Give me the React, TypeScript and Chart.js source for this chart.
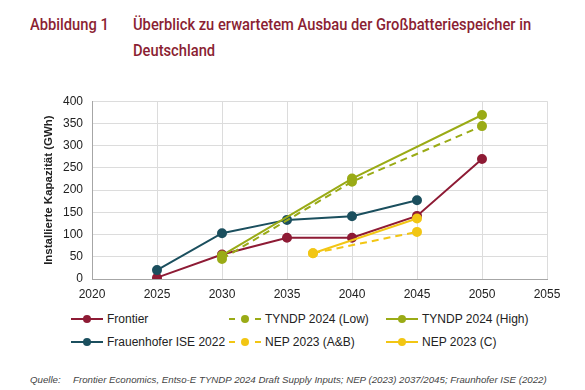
import React, { useEffect, useRef } from "react";
import { Chart, registerables } from "chart.js";

Chart.register(...registerables);

const xTicks = [2020, 2025, 2030, 2035, 2040, 2045, 2050, 2055];
const yTicks = [0, 50, 100, 150, 200, 250, 300, 350, 400];

const frontierYears = [2025, 2030, 2035, 2040, 2045, 2050];
const frontierValues = [3, 55, 93, 93, 142, 270];

const fraunhoferYears = [2025, 2030, 2035, 2040, 2045];
const fraunhoferValues = [20, 103, 133, 141, 177];

const tyndpLowYears = [2030, 2040, 2050];
const tyndpLowValues = [45, 219, 344];

const tyndpHighYears = [2030, 2040, 2050];
const tyndpHighValues = [53, 226, 369];

const nepABYears = [2037, 2045];
const nepABValues = [58, 106];

const nepCYears = [2037, 2045];
const nepCValues = [58, 136];

const C_FRONTIER = "#8e1b35";
const C_FRAUN = "#1b4f5e";
const C_TYNDP = "#9aab16";
const C_NEP = "#f2c614";

const pts = (xs: number[], ys: number[]) => xs.map((x, i) => ({ x, y: ys[i] }));

const legendItems = [
  { label: "Frontier", color: C_FRONTIER, dashed: false, left: 71, top: 319 },
  { label: "TYNDP 2024 (Low)", color: C_TYNDP, dashed: true, left: 229, top: 319 },
  { label: "TYNDP 2024 (High)", color: C_TYNDP, dashed: false, left: 386, top: 319 },
  { label: "Frauenhofer ISE 2022", color: C_FRAUN, dashed: false, left: 71, top: 342 },
  { label: "NEP 2023 (A&B)", color: C_NEP, dashed: true, left: 229, top: 342 },
  { label: "NEP 2023 (C)", color: C_NEP, dashed: false, left: 386, top: 342 },
];

const titleFont = '"Roboto", "Liberation Sans", sans-serif';
const axisFont = '"Liberation Sans", Arial, sans-serif';

export default function App() {
  const ref = useRef<HTMLCanvasElement>(null);

  useEffect(() => {
    if (!ref.current) return;
    const mk = (label: string, xs: number[], ys: number[], color: string, dashed: boolean) => ({
      label,
      data: pts(xs, ys),
      borderColor: color,
      backgroundColor: color,
      pointBackgroundColor: color,
      pointBorderColor: color,
      borderWidth: 2,
      pointRadius: 4,
      borderDash: dashed ? [7, 5] : [],
      tension: 0,
      fill: false,
    });
    const chart = new Chart(ref.current, {
      type: "line",
      data: {
        datasets: [
          mk("TYNDP 2024 (Low)", tyndpLowYears, tyndpLowValues, C_TYNDP, true),
          mk("TYNDP 2024 (High)", tyndpHighYears, tyndpHighValues, C_TYNDP, false),
          mk("NEP 2023 (A&B)", nepABYears, nepABValues, C_NEP, true),
          mk("NEP 2023 (C)", nepCYears, nepCValues, C_NEP, false),
          mk("Frauenhofer ISE 2022", fraunhoferYears, fraunhoferValues, C_FRAUN, false),
          mk("Frontier", frontierYears, frontierValues, C_FRONTIER, false),
        ] as any,
      },
      options: {
        animation: false,
        responsive: false,
        maintainAspectRatio: false,
        layout: { padding: { top: 11.5, right: 38, bottom: 0, left: 42 } },
        plugins: { legend: { display: false }, tooltip: { enabled: false } },
        scales: {
          x: {
            type: "linear",
            min: 2020,
            max: 2055,
            afterBuildTicks: (axis: any) => {
              axis.ticks = xTicks.map((v) => ({ value: v }));
            },
            afterFit: (axis: any) => {
              axis.height = 22;
            },
            grid: { color: "#dcdcdc", drawTicks: false, lineWidth: 1 },
            border: { color: "#a6a6a6", width: 1 },
            ticks: {
              padding: 8,
              color: "#222",
              font: { family: axisFont, size: 12 },
              callback: (v: any) => String(v),
              maxRotation: 0,
            },
          },
          y: {
            min: 0,
            max: 400,
            afterBuildTicks: (axis: any) => {
              axis.ticks = yTicks.map((v) => ({ value: v }));
            },
            afterFit: (axis: any) => {
              axis.width = 50;
            },
            grid: { color: "#dcdcdc", drawTicks: false, lineWidth: 1 },
            border: { color: "#a6a6a6", width: 1 },
            ticks: {
              padding: 9,
              color: "#222",
              font: { family: axisFont, size: 12 },
            },
            title: {
              display: true,
              text: "Installierte Kapazität (GWh)",
              color: "#222",
              font: { family: axisFont, size: 11.5, weight: "bold" },
              padding: { top: 0, bottom: 0 },
            },
          },
        },
      } as any,
    });
    return () => chart.destroy();
  }, []);

  const titleStyle: React.CSSProperties = {
    position: "absolute",
    top: 11,
    color: "#8b1f33",
    fontFamily: titleFont,
    fontWeight: 500,
    fontSize: 17,
    lineHeight: "26px",
    transform: "scaleX(0.865)",
    transformOrigin: "left top",
    whiteSpace: "nowrap",
  };

  const srcStyle: React.CSSProperties = {
    position: "absolute",
    top: 374,
    fontFamily: axisFont,
    fontStyle: "italic",
    fontSize: 9.7,
    lineHeight: "12px",
    color: "#444",
    whiteSpace: "nowrap",
  };

  return (
    <div style={{ position: "fixed", left: 0, top: 0, width: 585, height: 390, background: "#fff", overflow: "hidden" }}>
      <div style={{ ...titleStyle, left: 30 }}>Abbildung 1</div>
      <div style={{ ...titleStyle, left: 133 }}>
        Überblick zu erwartetem Ausbau der Großbatteriespeicher in
        <br />
        Deutschland
      </div>
      <canvas ref={ref} width={585} height={216} style={{ position: "absolute", left: 0, top: 85, width: 585, height: 216 }} />
      {legendItems.map((it) => (
        <div key={it.label} style={{ position: "absolute", left: it.left, top: it.top - 8, height: 16, display: "flex", alignItems: "center", whiteSpace: "nowrap" }}>
          <svg width={32} height={16} style={{ display: "block" }}>
            <line x1={0} y1={8} x2={32} y2={8} stroke={it.color} strokeWidth={2} strokeDasharray={it.dashed ? "6 7" : undefined} />
            <circle cx={16} cy={8} r={4} fill={it.color} />
          </svg>
          <span style={{ fontFamily: axisFont, fontSize: 12, color: "#222", marginLeft: 4 }}>{it.label}</span>
        </div>
      ))}
      <div style={{ ...srcStyle, left: 30 }}>Quelle:</div>
      <div style={{ ...srcStyle, left: 73 }}>
        Frontier Economics, Entso-E TYNDP 2024 Draft Supply Inputs; NEP (2023) 2037/2045; Fraunhofer ISE (2022)
      </div>
    </div>
  );
}
